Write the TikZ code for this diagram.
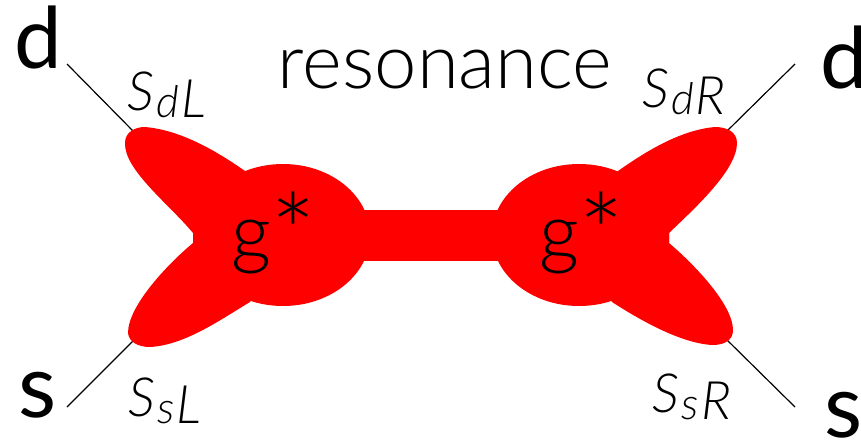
\documentclass[tikz,border=0pt]{standalone}
\usepackage{fontspec}
\setmainfont{Lato Light}[ItalicFont={Lato Light Italic},BoldFont={Lato}]
\newcommand{\quarkfont}{\fontsize{88}{88}\selectfont\bfseries}
\newcommand{\dquarkfont}{\fontsize{85}{85}\selectfont\bfseries}
\newcommand{\labelfont}{\fontsize{76}{76}\selectfont}
\newcommand{\gstar}{\fontsize{78}{78}\selectfont g\kern-1pt\raisebox{-13pt}{\fontsize{108}{108}\selectfont *}}
\newcommand{\coupl}[2]{\itshape\fontsize{54}{54}\selectfont S\kern2pt\raisebox{-7pt}{\fontsize{44}{44}\selectfont #1\kern2pt\fontsize{53}{53}\selectfont #2}}
\tikzset{
	blob/.style={fill={rgb,255:red,255;green,0;blue,0},draw=none},
	leg/.style={line width=1.2pt,black},
	txt/.style={inner sep=0pt,outer sep=0pt,anchor=base}
}
\begin{document}
\begin{tikzpicture}[x=1pt,y=-1pt]
	\useasboundingbox (0,0) rectangle (861,440);
	\coordinate (legdL) at (67,64);
	\coordinate (legsL) at (67,407);
	\coordinate (legdR) at (795,64);
	\coordinate (legsR) at (795,407);
	\coordinate (tipdL) at (136,134);
	\coordinate (tipsL) at (136,338);
	\coordinate (tipdR) at (726,132);
	\coordinate (tipsR) at (724,337);
	\draw[leg] (legdL) -- (tipdL);
	\draw[leg] (legsL) -- (tipsL);
	\draw[leg] (legdR) -- (tipdR);
	\draw[leg] (legsR) -- (tipsR);
	\fill[blob] (283,235) ellipse (87 and 71);
	\fill[blob] (579,235) ellipse (87 and 71);
	\fill[blob] (340,210) rectangle (520,261);
	\fill[blob] (193,233) .. controls (170,205) and (124,170) .. (125,143) .. controls (125,132) and (135,127) .. (145,127) .. controls (180,130) and (215,150) .. (245,171) -- (290,240) -- (193,243) -- cycle;
	\fill[blob] (193,243) .. controls (170,262) and (128,305) .. (128,333) .. controls (129,342) and (138,347) .. (150,347) .. controls (185,345) and (220,320) .. (250,302) -- (290,240) -- (193,233) -- cycle;
	\fill[blob] (669,233) .. controls (695,208) and (737,170) .. (737,143) .. controls (737,132) and (727,127) .. (715,127) .. controls (680,130) and (645,152) .. (618,171) -- (575,240) -- (669,243) -- cycle;
	\fill[blob] (669,243) .. controls (695,265) and (733,305) .. (733,330) .. controls (733,340) and (725,345) .. (712,345) .. controls (680,343) and (640,320) .. (612,302) -- (575,240) -- (669,233) -- cycle;
	\node[txt] (quarkdL) at (38,68) {\dquarkfont d};
	\node[txt] (quarksL) at (38,417) {\quarkfont s};
	\node[txt] (quarkdR) at (844,88) {\dquarkfont d};
	\node[txt] (quarksR) at (844,437) {\quarkfont s};
	\node[txt] (title) at (445,88) {\labelfont resonance};
	\node[txt] (gstarL) at (274,259) {\gstar};
	\node[txt] (gstarR) at (582,259) {\gstar};
	\node[txt] (coupldL) at (167,110) {\coupl{d}{L}};
	\node[txt] (couplsL) at (165,416) {\coupl{s}{L}};
	\node[txt] (coupldR) at (684,107) {\coupl{d}{R}};
	\node[txt] (couplsR) at (692,412) {\coupl{s}{R}};
\end{tikzpicture}
\end{document}
